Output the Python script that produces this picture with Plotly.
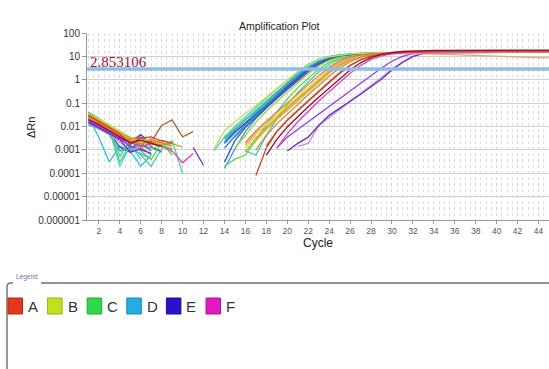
import math
import plotly.graph_objects as go

N = None
cycles = list(range(1, 46))
threshold = 2.853106

# ΔRn per well, cycles 1-15 / 16-30 / 31-45 (None = not plotted on log scale)
w01 = [0.032, 0.018, 0.0085, 0.0042, 0.0021, 0.0016, 0.0012, 0.0009, N, N, N, N, N, 0.0028, 0.0075,
       0.019, 0.048, 0.12, 0.30, 0.75, 1.8, 4.0, 6.8, 9.4, 11.3, 12.6, 13.4, 13.9, 14.2, 14.4,
       14.5, 14.6, 14.6, 14.7, 14.7, 14.8, 14.8, 14.9, 14.9, 14.9, 15.0, 15.0, 15.0, 15.1, 15.1]
w02 = [0.028, 0.0034, 0.0003, 0.0015, 0.0009, 0.0002, 0.0006, N, N, N, N, N, N, 0.0018, 0.0052,
       0.015, 0.040, 0.10, 0.26, 0.65, 1.6, 3.6, 6.3, 9.0, 11.0, 12.4, 13.3, 13.8, 14.1, 14.3,
       14.4, 14.5, 14.6, 14.6, 14.7, 14.7, 14.8, 14.8, 14.8, 14.9, 14.9, 14.9, 15.0, 15.0, 15.0]
w03 = [0.040, 0.022, 0.011, 0.0050, 0.0028, 0.0012, 0.0022, 0.0015, 0.0011, N, N, N, N, N, 0.0035,
       0.010, 0.028, 0.070, 0.18, 0.45, 1.1, 2.6, 5.0, 7.9, 10.3, 12.0, 13.1, 13.8, 14.2, 14.5,
       14.7, 14.8, 14.9, 15.0, 15.0, 15.1, 15.1, 15.2, 15.2, 15.2, 15.3, 15.3, 15.3, 15.4, 15.4]
w04 = [0.012, 0.0080, 0.0045, 0.0009, 0.0011, 0.0007, 0.0004, N, N, N, N, N, N, 0.00016, 0.0011,
       0.0060, 0.022, 0.060, 0.16, 0.40, 1.0, 2.4, 4.7, 7.6, 10.0, 11.8, 12.9, 13.6, 14.0, 14.3,
       14.5, 14.6, 14.7, 14.8, 14.8, 14.9, 14.9, 15.0, 15.0, 15.0, 15.1, 15.1, 15.1, 15.2, 15.2]
w05 = [0.020, 0.012, 0.0060, 0.0013, 0.0008, 0.0035, 0.0014, 0.0008, N, N, N, N, N, 0.0003, 0.0025,
       0.0090, 0.025, 0.065, 0.16, 0.38, 0.92, 2.2, 4.4, 7.2, 9.7, 11.6, 12.8, 13.5, 14.0, 14.3,
       14.5, 14.6, 14.7, 14.7, 14.8, 14.8, 14.9, 14.9, 14.9, 15.0, 15.0, 15.0, 15.1, 15.1, 15.1]
w06 = [0.035, 0.020, 0.010, 0.0005, 0.0025, 0.0009, 0.0004, 0.0020, 0.0006, N, N, N, N, 0.0002, 0.0004,
       0.0006, 0.0025, 0.012, 0.045, 0.15, 0.45, 1.2, 2.9, 5.5, 8.4, 10.8, 12.4, 13.4, 14.0, 14.4,
       14.6, 14.8, 14.9, 15.0, 15.1, 15.1, 15.2, 15.2, 15.3, 15.3, 15.3, 15.4, 15.4, 15.4, 15.4]
w07 = [0.030, 0.016, 0.0090, 0.0045, 0.0022, 0.0018, 0.0025, 0.0016, N, N, N, N, N, 0.0032, 0.0080,
       0.020, 0.045, 0.11, 0.26, 0.62, 1.45, 3.2, 5.8, 8.6, 10.8, 12.3, 13.2, 13.8, 14.1, 14.3,
       14.4, 14.5, 14.6, 14.6, 14.7, 14.7, 14.7, 14.8, 14.8, 14.8, 14.9, 14.9, 14.9, 14.9, 15.0]
w08 = [0.030, 0.017, 0.0095, 0.0050, 0.0026, 0.0014, 0.0011, 0.0017, 0.0008, N, N, N, N, N, 0.0012,
       0.0045, 0.015, 0.045, 0.12, 0.30, 0.75, 1.8, 3.9, 6.7, 9.3, 11.3, 12.6, 13.4, 13.9, 14.2,
       14.4, 14.6, 14.7, 14.8, 14.8, 14.9, 14.9, 15.0, 15.0, 15.0, 15.1, 15.1, 15.1, 15.1, 15.2]
w09 = [0.018, 0.010, 0.0055, 0.0030, 0.0021, 0.0045, 0.0018, N, N, N, N, N, N, 0.0021, 0.0060,
       0.014, 0.034, 0.085, 0.21, 0.50, 1.2, 2.8, 5.3, 8.2, 10.6, 12.1, 13.1, 13.7, 14.1, 14.3,
       14.5, 14.6, 14.6, 14.7, 14.7, 14.8, 14.8, 14.8, 14.9, 14.9, 14.9, 15.0, 15.0, 15.0, 15.0]
w10 = [0.025, 0.015, 0.0075, 0.0003, 0.0018, 0.0004, N, N, N, N, N, N, 0.0009, 0.0035, 0.010,
       0.026, 0.065, 0.16, 0.40, 0.95, 2.2, 4.6, 7.5, 10.0, 11.8, 12.9, 13.6, 14.0, 14.3, 14.5,
       14.6, 14.7, 14.7, 14.8, 14.8, 14.9, 14.9, 14.9, 15.0, 15.0, 15.0, 15.0, 15.1, 15.1, 15.1]
w11 = [0.022, 0.013, 0.0080, 0.0002, 0.0015, 0.0006, 0.0002, 0.0011, 0.0025, 0.0001, N, N, N, N, N,
       0.0009, 0.0006, 0.0042, 0.021, 0.085, 0.28, 0.80, 2.1, 4.5, 7.4, 9.9, 11.7, 12.9, 13.6, 14.0,
       14.3, 14.5, 14.6, 14.7, 14.8, 14.8, 14.9, 14.9, 15.0, 15.0, 15.0, 15.1, 15.1, 15.1, 15.1]
w12 = [0.026, 0.014, 0.0070, 0.0036, 0.0012, 0.0020, 0.0009, N, N, N, N, N, N, 0.0012, 0.0040,
       0.012, 0.032, 0.085, 0.22, 0.55, 1.35, 3.1, 5.7, 8.6, 10.9, 12.4, 13.3, 13.8, 14.2, 14.4,
       14.5, 14.6, 14.7, 14.7, 14.8, 14.8, 14.9, 14.9, 14.9, 15.0, 15.0, 15.0, 15.0, 15.1, 15.1]
w13 = [0.034, 0.020, 0.010, 0.0060, 0.0030, 0.0020, 0.0016, 0.0021, 0.0014, N, N, N, N, N, N,
       0.0012, 0.0045, 0.012, 0.030, 0.075, 0.19, 0.47, 1.15, 2.7, 5.2, 8.2, 10.7, 12.4, 13.5, 14.2,
       14.6, 14.9, 15.1, 15.2, 15.3, 15.3, 15.4, 15.4, 15.5, 15.5, 15.5, 15.6, 15.6, 15.6, 15.6]
w14 = [0.028, 0.016, 0.0085, 0.0045, 0.0028, 0.0019, 0.0024, 0.0017, 0.0019, 0.0013, N, N, N, N, N,
       0.0008, 0.0032, 0.0090, 0.024, 0.060, 0.15, 0.37, 0.90, 2.2, 4.4, 7.3, 10.0, 11.9, 13.1, 13.9,
       14.4, 14.7, 14.9, 15.0, 15.1, 15.2, 15.2, 15.3, 15.3, 15.3, 15.4, 15.4, 15.4, 15.4, 15.5]
w15 = [0.024, 0.014, 0.0080, 0.0042, 0.0024, 0.0032, 0.0022, 0.0018, N, N, N, N, N, N, N,
       N, 0.0025, 0.0075, 0.020, 0.050, 0.125, 0.31, 0.77, 1.9, 3.9, 6.7, 9.4, 11.5, 12.9, 13.7,
       14.2, 14.5, 14.7, 14.8, 14.9, 15.0, 15.0, 15.1, 15.1, 15.1, 15.2, 15.2, 15.2, 15.2, 15.3]
w16 = [0.026, 0.015, 0.0085, 0.0048, 0.0030, 0.0034, 0.0022, 0.011, 0.019, 0.0036, 0.0060, N, N, N, N,
       N, N, 0.0015, 0.0060, 0.018, 0.048, 0.12, 0.30, 0.75, 1.85, 4.0, 7.0, 9.9, 12.0, 13.4,
       14.2, 14.7, 15.0, 15.2, 15.3, 15.4, 15.4, 15.5, 15.5, 15.5, 15.6, 15.6, 15.6, 15.6, 15.6]
w17 = [0.016, 0.0095, 0.0052, 0.0028, 0.0015, 0.0010, 0.0007, N, N, N, N, N, N, N, N,
       N, N, N, 0.0012, 0.0035, 0.0075, 0.016, 0.034, 0.070, 0.15, 0.32, 0.70, 1.5, 3.2, 6.2,
       10.0, 13.2, 15.0, 15.8, 16.2, 16.4, 16.5, 16.6, 16.6, 16.7, 16.7, 16.7, 16.7, 16.8, 16.8]
w18 = [0.014, 0.0085, 0.0048, 0.0022, 0.0009, 0.0013, 0.0006, N, N, N, N, N, N, N, N,
       N, N, N, N, N, 0.0014, 0.0019, 0.011, 0.024, 0.052, 0.11, 0.25, 0.55, 1.25, 2.8,
       5.7, 9.8, 13.0, 14.8, 15.6, 16.0, 16.2, 16.3, 16.4, 16.4, 16.5, 16.5, 16.5, 16.5, 16.6]
w19 = [0.015, 0.0090, 0.0050, 0.0028, 0.0008, 0.0011, 0.0007, N, N, N, 0.0013, 0.00022, N, N, N,
       N, N, N, N, 0.0009, 0.0019, 0.0035, 0.011, 0.030, 0.060, 0.11, 0.24, 0.50, 1.05, 2.6,
       5.5, 10.0, 13.5, 15.4, 16.2, 16.6, 16.8, 16.9, 17.0, 17.0, 17.1, 17.1, 17.1, 17.1, 17.2]
w20 = [0.036, 0.021, 0.012, 0.0065, 0.0035, 0.0024, 0.0030, 0.0019, N, N, N, N, 0.0011, 0.0065, 0.016,
       0.035, 0.080, 0.18, 0.42, 0.95, 2.1, 4.2, 7.0, 9.6, 11.5, 12.8, 13.6, 14.1, 14.4, 14.6,
       14.7, 14.8, 14.8, 14.9, 14.9, 15.0, 15.0, 15.0, 15.1, 15.1, 15.1, 15.1, 15.2, 15.2, 15.2]
w21 = [0.032, 0.018, 0.0095, 0.0052, 0.0033, 0.0024, 0.0019, 0.0026, 0.0018, N, N, N, N, N, N,
       0.0020, 0.0065, 0.017, 0.042, 0.10, 0.25, 0.62, 1.5, 3.4, 6.3, 9.2, 11.4, 12.8, 13.7, 14.3,
       14.7, 14.9, 15.1, 15.2, 15.3, 15.3, 15.4, 15.4, 15.4, 15.5, 15.5, 15.5, 15.5, 15.6, 15.6]
w22 = [0.027, 0.016, 0.0090, 0.0050, 0.0030, 0.0021, 0.0026, 0.0020, N, N, N, N, N, N, N,
       0.0016, 0.0055, 0.015, 0.038, 0.095, 0.24, 0.60, 1.45, 3.0, 5.2, 7.8, 9.9, 11.4, 12.4, 13.0,
       13.2, 13.2, 13.0, 12.6, 12.1, 11.6, 11.1, 10.6, 10.2, 9.8, 9.5, 9.2, 9.0, 8.8, 8.6]
w23 = [0.019, 0.011, 0.0060, 0.0033, 0.0021, 0.0014, 0.0018, 0.0014, 0.0009, 0.00028, 0.0007, N, N, N, N,
       N, N, N, 0.0012, 0.0048, 0.016, 0.045, 0.12, 0.31, 0.78, 1.9, 4.1, 7.4, 10.6, 12.9,
       14.3, 15.0, 15.4, 15.6, 15.7, 15.8, 15.8, 15.9, 15.9, 15.9, 16.0, 16.0, 16.0, 16.0, 16.0]
w24 = [0.024, 0.014, 0.0075, 0.0040, 0.0025, 0.0016, 0.0028, 0.0021, 0.0015, N, N, N, N, N, N,
       N, 0.0010, 0.0042, 0.013, 0.035, 0.090, 0.23, 0.57, 1.4, 3.1, 5.9, 9.0, 11.8, 13.8, 15.0,
       15.8, 16.3, 16.6, 16.8, 16.9, 17.0, 17.1, 17.1, 17.2, 17.2, 17.2, 17.3, 17.3, 17.3, 17.3]
w25 = [0.030, 0.017, 0.0090, 0.0048, 0.0017, 0.0032, 0.0036, 0.0024, 0.0020, N, N, N, N, N, N,
       N, 0.00008, 0.0012, 0.0060, 0.019, 0.050, 0.13, 0.33, 0.82, 2.0, 4.2, 7.3, 10.3, 12.5, 14.0,
       15.0, 15.6, 16.0, 16.3, 16.5, 16.6, 16.7, 16.8, 16.8, 16.9, 16.9, 17.0, 17.0, 17.0, 17.0]
w26 = [0.020, 0.012, 0.0065, 0.0035, 0.0020, 0.0026, 0.0019, 0.0014, N, N, N, N, N, N, N,
       N, N, 0.0006, 0.0028, 0.0095, 0.027, 0.070, 0.18, 0.45, 1.1, 2.6, 5.3, 8.9, 12.2, 14.6,
       16.2, 17.1, 17.6, 17.9, 18.1, 18.2, 18.3, 18.3, 18.4, 18.4, 18.4, 18.5, 18.5, 18.5, 18.5]

well_values = [w01, w02, w03, w04, w05, w06, w07, w08, w09, w10, w11, w12, w13,
               w14, w15, w16, w17, w18, w19, w20, w21, w22, w23, w24, w25, w26]
well_colors = ["#1fae9b", "#23c4e8", "#2fbf3c", "#3d9be0", "#2f4fd0", "#52dc4a", "#3cc389",
               "#a5d22e", "#4b2fc2", "#35d3c6", "#4ccf9a", "#3a6fe0", "#e3d21f", "#b5a526",
               "#f0a226", "#a86a2c", "#8d3fe6", "#c48ae6", "#6a2fc0", "#c6e04a", "#e0762a",
               "#eca27a", "#e03cc0", "#c98a38", "#d8402a", "#8f0f2a"]

y_tick_values = [100, 10, 1, 0.1, 0.01, 0.001, 0.0001, 0.00001, 0.000001]
y_tick_labels = ["100", "10", "1", "0.1", "0.01", "0.001", "0.0001", "0.00001", "0.000001"]
x_tick_values = list(range(2, 45, 2))

legend_names = ["A", "B", "C", "D", "E", "F"]
legend_colors = ["#e4381a", "#c3e01c", "#2fd84a", "#22aee0", "#2a12c8", "#e01cc0"]
legend_edges = ["#b02810", "#9ab010", "#20a838", "#1888b8", "#1c0c90", "#b01498"]

# plot-area box in page pixels, used to place the decorations around it
PL, PR, PT, PB = 87, 549, 33, 220
W, H = 549, 369


def px(x):
    return (x - PL) / (PR - PL)


def py(y):
    return (PB - y) / (PB - PT)


fig = go.Figure()

for vals, col in zip(well_values, well_colors):
    fig.add_trace(go.Scatter(x=cycles, y=vals, mode="lines", connectgaps=False,
                             line=dict(color=col, width=1.3), showlegend=False,
                             hoverinfo="skip"))

fig.add_trace(go.Scatter(x=[0.87, 45.0], y=[threshold, threshold], mode="lines",
                         line=dict(color="#8dbce8", width=3.5), showlegend=False,
                         hoverinfo="skip"))

annotations = [
    dict(text="Amplification Plot", x=px(279), y=py(18), xref="paper", yref="paper",
         showarrow=False, font=dict(family="Liberation Sans", size=10.5, color="#222")),
    dict(text="Cycle", x=px(318), y=py(252), xref="paper", yref="paper",
         showarrow=False, font=dict(family="Liberation Sans", size=12, color="#222")),
    dict(text="ΔRn", x=px(23), y=py(128), xref="paper", yref="paper", textangle=-90,
         showarrow=False, font=dict(family="Liberation Sans", size=11, color="#222")),
    dict(text=f"{threshold:.6f}", x=px(88), xref="paper", xanchor="left",
         y=math.log10(threshold), yref="y", yanchor="bottom", yshift=-3,
         showarrow=False, font=dict(family="Liberation Serif", size=15, color="#a3101f")),
    dict(text="Legend", x=px(14), y=py(283), xref="paper", yref="paper", xanchor="left",
         showarrow=False, font=dict(family="Liberation Sans", size=6.5, color="#6b7b9b")),
]

shapes = [
    # legend group box outline
    dict(type="path", xref="paper", yref="paper",
         path=f"M {px(7)},{py(369)} L {px(7)},{py(287)} Q {px(7)},{py(283)} {px(11)},{py(283)} L {px(13)},{py(283)}",
         line=dict(color="#6e6e6e", width=1.4)),
    dict(type="line", xref="paper", yref="paper", x0=px(41), x1=px(549), y0=py(283), y1=py(283),
         line=dict(color="#6e6e6e", width=1.4)),
]

for i, (name, col, edge) in enumerate(zip(legend_names, legend_colors, legend_edges)):
    left = 8 + i * 39.6
    shapes.append(dict(type="rect", xref="paper", yref="paper",
                       x0=px(left), x1=px(left + 14.5), y0=py(298), y1=py(314),
                       fillcolor=col, line=dict(color=edge, width=1)))
    annotations.append(dict(text=name, x=px(left + 18), y=py(306.5), xref="paper", yref="paper",
                            xanchor="left", yanchor="middle", showarrow=False,
                            font=dict(family="Liberation Sans", size=15, color="#333")))

fig.update_layout(
    width=W, height=H, autosize=False,
    margin=dict(l=PL, r=W - PR, t=PT, b=H - PB),
    paper_bgcolor="white", plot_bgcolor="white",
    showlegend=False,
    annotations=annotations, shapes=shapes,
    xaxis=dict(range=[0.87, 45.0], tickvals=x_tick_values, ticks="outside", ticklen=3,
               tickcolor="#999", tickfont=dict(family="Liberation Sans", size=8.5, color="#555"),
               showline=True, linecolor="#9a9a9a", linewidth=1,
               showgrid=True, gridcolor="#d3d3dd", griddash="dot", zeroline=False,
               minor=dict(dtick=0.5, tick0=0, showgrid=True, gridcolor="#dcdce6",
                          griddash="dot")),
    yaxis=dict(type="log", range=[-6, 2], tickvals=y_tick_values, ticktext=y_tick_labels,
               ticks="outside", ticklen=4, tickcolor="#999",
               tickfont=dict(family="Liberation Sans", size=10, color="#333"),
               showline=True, linecolor="#9a9a9a", linewidth=1,
               showgrid=True, gridcolor="#cfcfd6", zeroline=False),
)

fig.write_html("out.html", config={"displayModeBar": False})
